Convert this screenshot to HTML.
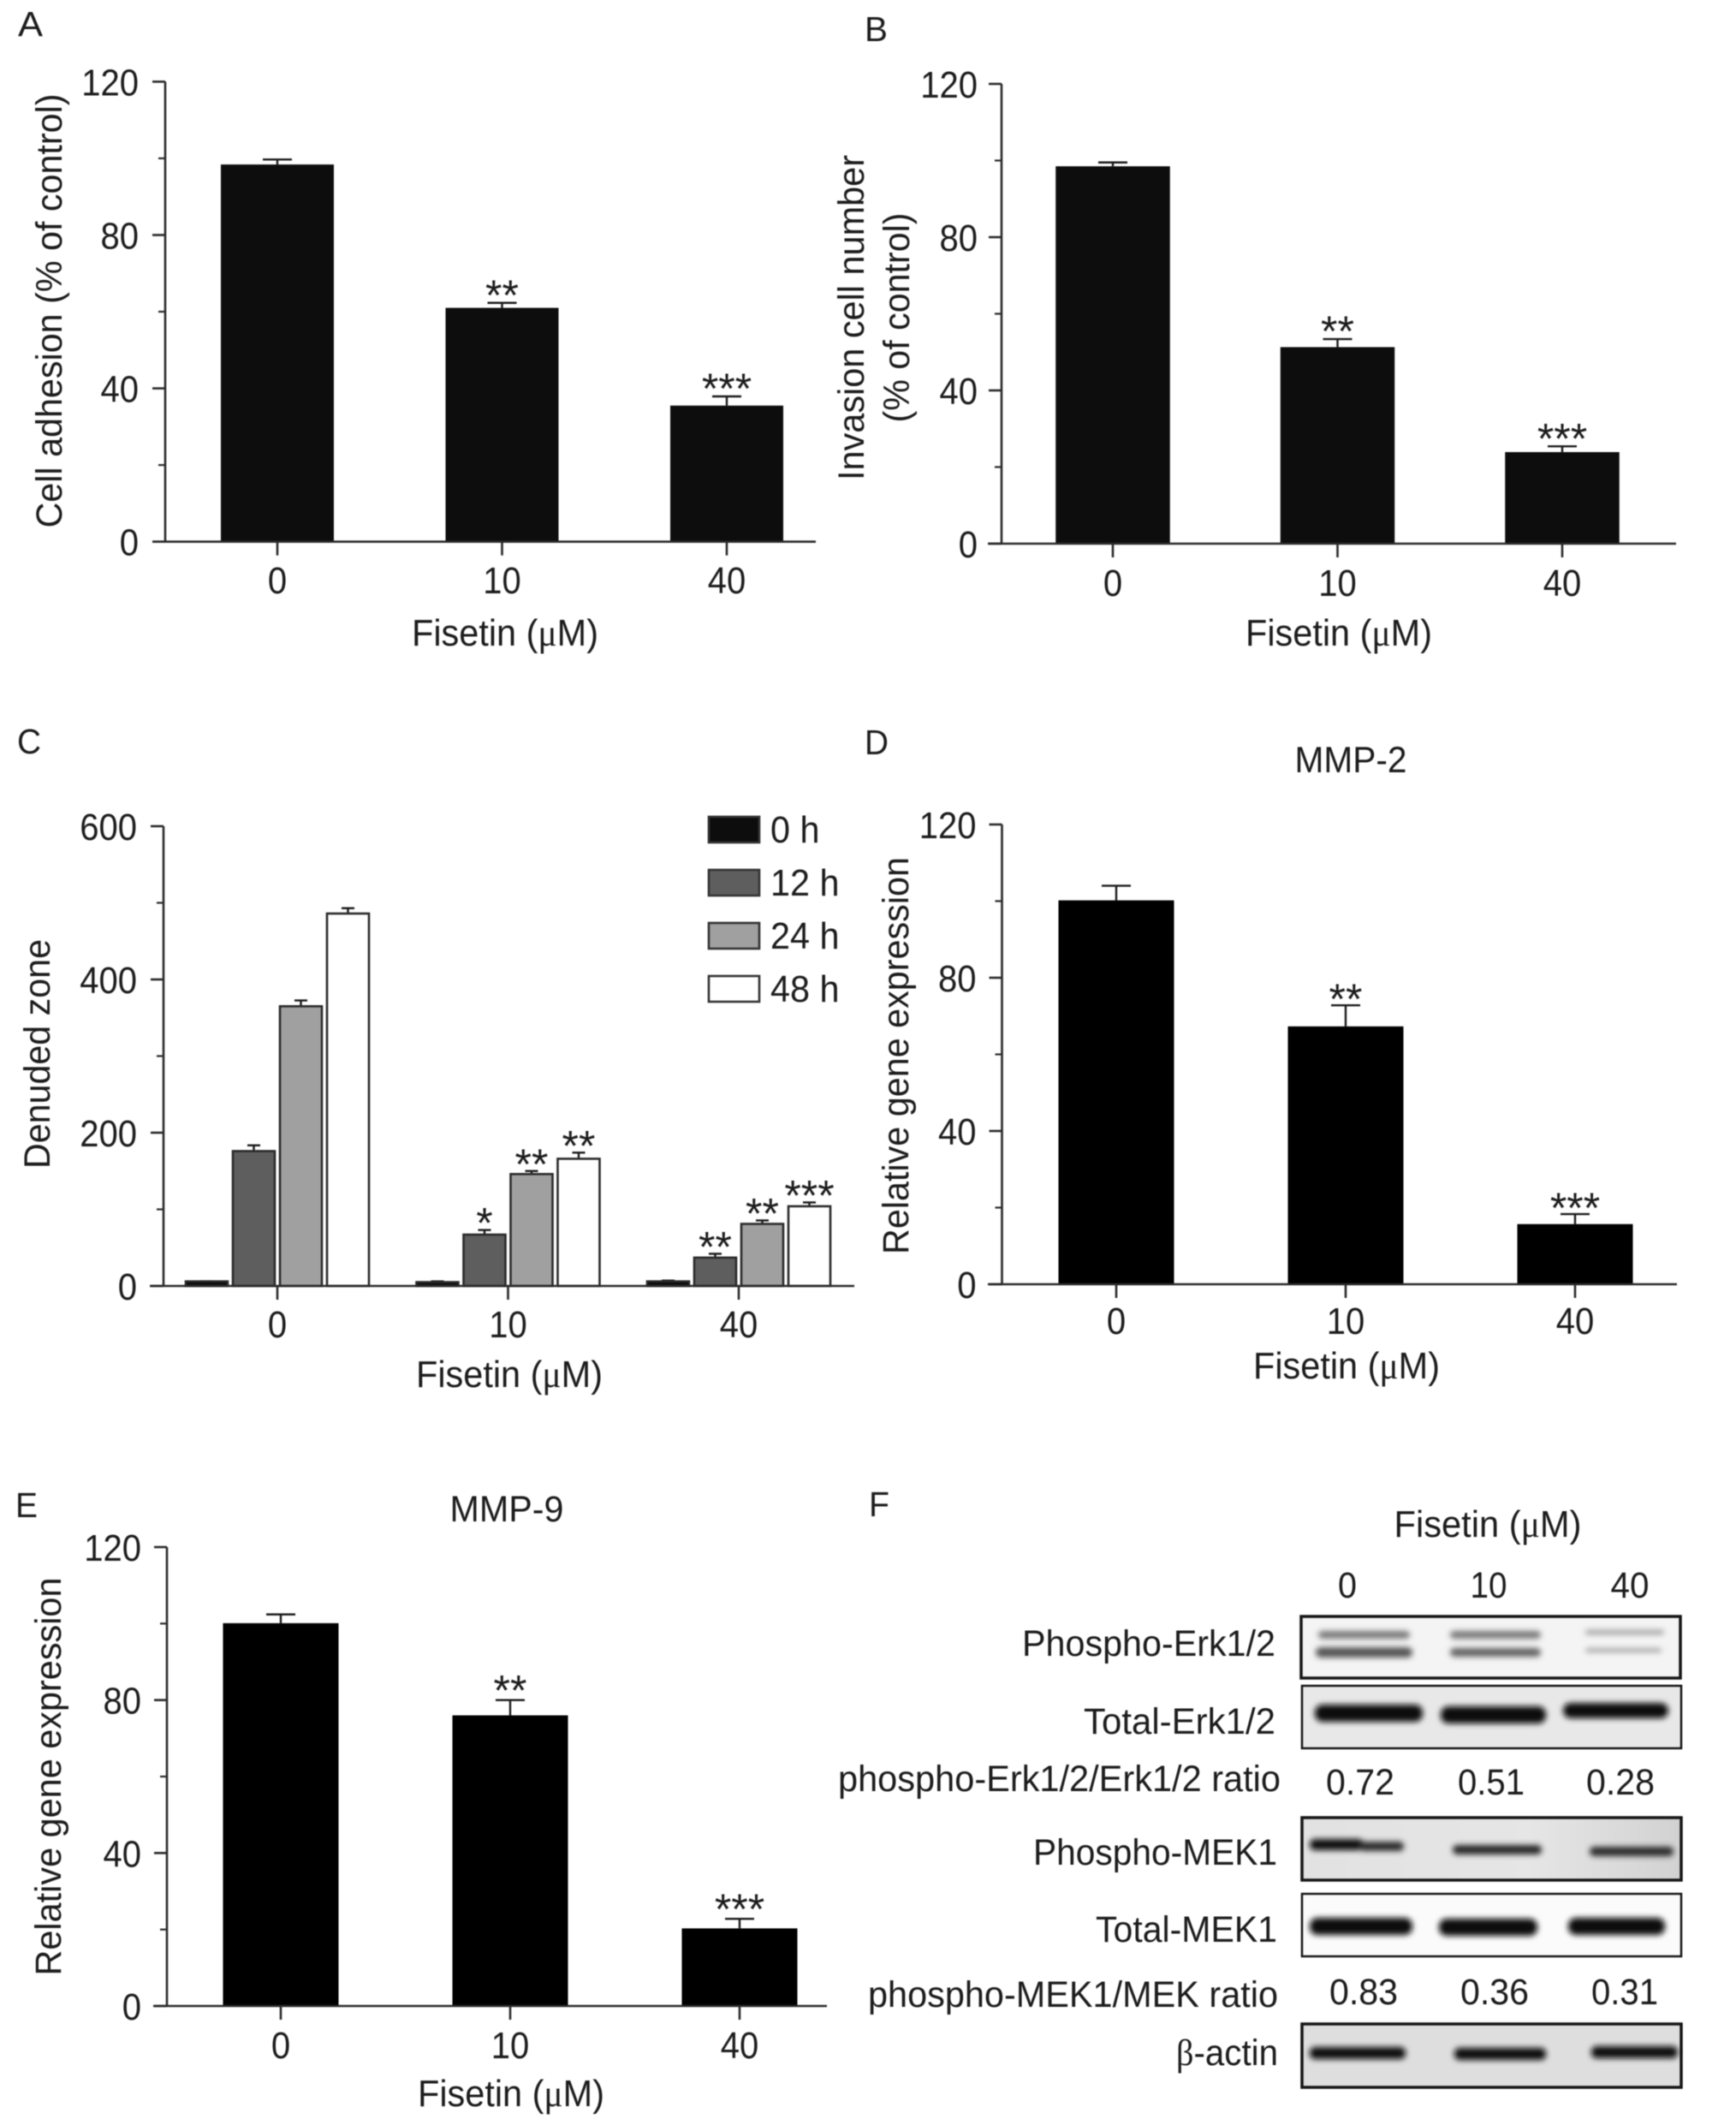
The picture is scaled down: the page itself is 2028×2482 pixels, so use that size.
<!DOCTYPE html>
<html lang="en">
<head>
<meta charset="utf-8">
<title>Fisetin effects on adhesion, invasion, migration and MMP expression</title>
<style>
  html, body { margin: 0; padding: 0; background: #fff; }
  svg { display: block; filter: blur(0.6px); }
  text { font-family: "Liberation Sans", Arial, sans-serif; fill: #1c1c1c; }
  .sym { font-family: "Liberation Serif", "DejaVu Serif", serif; }
</style>
</head>
<body>
<svg id="figure" xmlns="http://www.w3.org/2000/svg" width="2028" height="2482" viewBox="0 0 2028 2482">
  <defs>
    <filter id="bandBlur" filterUnits="userSpaceOnUse" x="1500" y="1870" width="500" height="590">
      <feGaussianBlur stdDeviation="3.4"></feGaussianBlur>
    </filter>
    <linearGradient id="blotGrey" x1="0" y1="0" x2="1" y2="0">
      <stop offset="0" stop-color="#e2e2e2"></stop>
      <stop offset="0.6" stop-color="#e6e6e6"></stop>
      <stop offset="1" stop-color="#d2d2d2"></stop>
    </linearGradient>
  </defs>
  <rect x="0" y="0" width="2028" height="2482" fill="#fff"></rect>

  <g id="panel-a">
    <text x="21" y="42" font-size="41" textLength="29" lengthAdjust="spacingAndGlyphs">A</text>
    <text transform="rotate(-90 72 363)" x="72" y="363" font-size="43" text-anchor="middle" textLength="507" lengthAdjust="spacingAndGlyphs">Cell adhesion (% of control)</text>
    <text x="590" y="754" font-size="44" text-anchor="middle" textLength="218" lengthAdjust="spacingAndGlyphs">Fisetin (<tspan class="sym">μ</tspan>M)</text>
  </g>

  <g id="panel-b">
    <text x="1010" y="48" font-size="41" textLength="27" lengthAdjust="spacingAndGlyphs">B</text>
    <text transform="rotate(-90 1009 371)" x="1009" y="371" font-size="43" text-anchor="middle" textLength="380" lengthAdjust="spacingAndGlyphs">Invasion cell number</text>
    <text transform="rotate(-90 1062 371)" x="1062" y="371" font-size="43" text-anchor="middle" textLength="245" lengthAdjust="spacingAndGlyphs">(% of control)</text>
    <text x="1564" y="754" font-size="44" text-anchor="middle" textLength="218" lengthAdjust="spacingAndGlyphs">Fisetin (<tspan class="sym">μ</tspan>M)</text>
  </g>

  <g id="panel-c">
    <text x="20" y="880" font-size="41" textLength="28" lengthAdjust="spacingAndGlyphs">C</text>
    <text transform="rotate(-90 58 1231)" x="58" y="1231" font-size="43" text-anchor="middle" textLength="268" lengthAdjust="spacingAndGlyphs">Denuded zone</text>
    <text x="595" y="1620" font-size="44" text-anchor="middle" textLength="218" lengthAdjust="spacingAndGlyphs">Fisetin (<tspan class="sym">μ</tspan>M)</text>
  </g>

  <g id="panel-d">
    <text x="1010" y="881" font-size="41" textLength="28" lengthAdjust="spacingAndGlyphs">D</text>
    <text x="1578" y="902" font-size="43" text-anchor="middle" textLength="131" lengthAdjust="spacingAndGlyphs">MMP-2</text>
    <text transform="rotate(-90 1061 1233)" x="1061" y="1233" font-size="43" text-anchor="middle" textLength="464" lengthAdjust="spacingAndGlyphs">Relative gene expression</text>
    <text x="1573" y="1610" font-size="44" text-anchor="middle" textLength="218" lengthAdjust="spacingAndGlyphs">Fisetin (<tspan class="sym">μ</tspan>M)</text>
  </g>

  <g id="panel-e">
    <text x="18" y="1772" font-size="41" textLength="26" lengthAdjust="spacingAndGlyphs">E</text>
    <text x="592" y="1777" font-size="43" text-anchor="middle" textLength="133" lengthAdjust="spacingAndGlyphs">MMP-9</text>
    <text transform="rotate(-90 71 2075)" x="71" y="2075" font-size="43" text-anchor="middle" textLength="465" lengthAdjust="spacingAndGlyphs">Relative gene expression</text>
    <text x="597" y="2460" font-size="44" text-anchor="middle" textLength="218" lengthAdjust="spacingAndGlyphs">Fisetin (<tspan class="sym">μ</tspan>M)</text>
  </g>

  <g id="panel-f">
    <text x="1015" y="1771" font-size="41" textLength="24" lengthAdjust="spacingAndGlyphs">F</text>
    <text x="1738" y="1795" font-size="44" text-anchor="middle" textLength="219" lengthAdjust="spacingAndGlyphs">Fisetin (<tspan class="sym">μ</tspan>M)</text>
    <text x="1574" y="1866" font-size="43" text-anchor="middle" textLength="22" lengthAdjust="spacingAndGlyphs">0</text>
    <text x="1739" y="1866" font-size="43" text-anchor="middle" textLength="43" lengthAdjust="spacingAndGlyphs">10</text>
    <text x="1904" y="1866" font-size="43" text-anchor="middle" textLength="45" lengthAdjust="spacingAndGlyphs">40</text>

    <text x="1490" y="1934" font-size="43" text-anchor="end" textLength="296" lengthAdjust="spacingAndGlyphs">Phospho-Erk1/2</text>
    <text x="1490" y="2025" font-size="43" text-anchor="end" textLength="224" lengthAdjust="spacingAndGlyphs">Total-Erk1/2</text>
    <text x="1496" y="2092" font-size="43" text-anchor="end" textLength="517" lengthAdjust="spacingAndGlyphs">phospho-Erk1/2/Erk1/2 ratio</text>
    <text x="1589" y="2096" font-size="43" text-anchor="middle" textLength="80" lengthAdjust="spacingAndGlyphs">0.72</text>
    <text x="1742" y="2096" font-size="43" text-anchor="middle" textLength="78" lengthAdjust="spacingAndGlyphs">0.51</text>
    <text x="1893" y="2096" font-size="43" text-anchor="middle" textLength="80" lengthAdjust="spacingAndGlyphs">0.28</text>
    <text x="1492" y="2178" font-size="43" text-anchor="end" textLength="285" lengthAdjust="spacingAndGlyphs">Phospho-MEK1</text>
    <text x="1492" y="2268" font-size="43" text-anchor="end" textLength="212" lengthAdjust="spacingAndGlyphs">Total-MEK1</text>
    <text x="1493" y="2344" font-size="43" text-anchor="end" textLength="479" lengthAdjust="spacingAndGlyphs">phospho-MEK1/MEK ratio</text>
    <text x="1593" y="2341" font-size="43" text-anchor="middle" textLength="80" lengthAdjust="spacingAndGlyphs">0.83</text>
    <text x="1746" y="2341" font-size="43" text-anchor="middle" textLength="80" lengthAdjust="spacingAndGlyphs">0.36</text>
    <text x="1898" y="2341" font-size="43" text-anchor="middle" textLength="78" lengthAdjust="spacingAndGlyphs">0.31</text>
    <text x="1493" y="2412" font-size="43" text-anchor="end" textLength="119" lengthAdjust="spacingAndGlyphs"><tspan class="sym">β</tspan>-actin</text>

    <rect x="1520" y="1888" width="443" height="72" fill="#f4f4f4"></rect>
    <rect x="1521" y="1969" width="443" height="73" fill="#e8e8e8"></rect>
    <rect x="1521" y="2123" width="443" height="73" fill="url(#blotGrey)"></rect>
    <rect x="1521" y="2212" width="443" height="73" fill="#fbfbfb"></rect>
    <rect x="1521" y="2364" width="443" height="74" fill="#dedede"></rect>

    <g filter="url(#bandBlur)">
      <g fill="#777">
        <rect x="1540" y="1905" width="107" height="9" rx="4.5" fill="#767676"></rect>
        <rect x="1537" y="1924" width="113" height="12" rx="6" fill="#555"></rect>
        <rect x="1694" y="1905" width="106" height="9" rx="4.5" fill="#767676"></rect>
        <rect x="1694" y="1925" width="106" height="10" rx="5" fill="#606060"></rect>
        <rect x="1852" y="1904" width="92" height="5" rx="2.5" fill="#999"></rect>
        <rect x="1852" y="1925" width="89" height="5" rx="2.5" fill="#a4a4a4"></rect>
      </g>
      <g fill="#0a0a0a">
        <rect x="1536" y="1991" width="126" height="20" rx="9"></rect>
        <rect x="1683" y="1993" width="123" height="20" rx="9"></rect>
        <rect x="1826" y="1989" width="123" height="18" rx="9"></rect>
      </g>
      <g fill="#222">
        <rect x="1530" y="2148" width="63" height="13" rx="6" fill="#0c0c0c"></rect>
        <rect x="1588" y="2151" width="52" height="11" rx="5" fill="#2a2a2a"></rect>
        <rect x="1697" y="2155" width="104" height="11" rx="5" fill="#262626"></rect>
        <rect x="1857" y="2157" width="98" height="11" rx="5" fill="#2a2a2a"></rect>
      </g>
      <g fill="#0a0a0a">
        <rect x="1530" y="2240" width="120" height="20" rx="9"></rect>
        <rect x="1681" y="2241" width="115" height="20" rx="9"></rect>
        <rect x="1832" y="2240" width="113" height="20" rx="9"></rect>
      </g>
      <g fill="#111">
        <rect x="1530" y="2391" width="112" height="14" rx="6"></rect>
        <rect x="1699" y="2392" width="107" height="14" rx="6"></rect>
        <rect x="1859" y="2390" width="101" height="14" rx="6"></rect>
      </g>
    </g>

    <g fill="none" stroke="#161616">
      <rect x="1520" y="1888" width="443" height="72" stroke-width="3.5"></rect>
      <rect x="1521" y="1969" width="443" height="73" stroke-width="2.5"></rect>
      <rect x="1521" y="2123" width="443" height="73" stroke-width="3.5"></rect>
      <rect x="1521" y="2212" width="443" height="73" stroke-width="2.5"></rect>
      <rect x="1521" y="2364" width="443" height="74" stroke-width="3.5"></rect>
    </g>
  </g>
</svg>

<script>
// ---- shared axis data ----
const categories = ['0', '10', '40'];
const percentTicks = [0, 40, 80, 120];
const percentMinorTicks = [20, 60, 100];
const zoneTicks = [0, 200, 400, 600];
const zoneMinorTicks = [100, 300, 500];

// ---- panel A: cell adhesion ----
const adhesionValues = [98.4, 61, 35.5];
const adhesionErrors = [1.3, 1.3, 2.4];
const adhesionStars = ['', '**', '***'];

// ---- panel B: invasion ----
const invasionValues = [98.5, 51.3, 23.9];
const invasionErrors = [1, 2.1, 1.5];
const invasionStars = ['', '**', '***'];

// ---- panel C: denuded zone ----
const seriesNames = ['0 h', '12 h', '24 h', '48 h'];
const zone0h = [6, 5, 6];
const zone12h = [176, 67, 37];
const zone24h = [365, 146, 81];
const zone48h = [486, 166, 104];
const zone0hErrors = [0, 1, 1];
const zone12hErrors = [7.5, 6, 5];
const zone24hErrors = [7.6, 4, 4.5];
const zone48hErrors = [7, 8, 5];
const zone0hStars = ['', '', ''];
const zone12hStars = ['', '*', '**'];
const zone24hStars = ['', '**', '**'];
const zone48hStars = ['', '**', '***'];

// ---- panel D: MMP-2 ----
const mmp2Values = [100.2, 67.3, 15.7];
const mmp2Errors = [3.8, 5.5, 2.6];
const mmp2Stars = ['', '**', '***'];

// ---- panel E: MMP-9 ----
const mmp9Values = [100.1, 76, 20.3];
const mmp9Errors = [2.3, 4, 2.5];
const mmp9Stars = ['', '**', '***'];

const NS = 'http://www.w3.org/2000/svg';
const AXIS_COLOR = '#2a2a2a';
const AXIS_WIDTH = 2.6;

function mk(tag, attrs, parent) {
  const node = document.createElementNS(NS, tag);
  Object.keys(attrs).forEach(function (k) { node.setAttribute(k, attrs[k]); });
  parent.appendChild(node);
  return node;
}

function narrow(node, ratio) {
  const w = node.getComputedTextLength() * ratio;
  node.setAttribute('textLength', w.toFixed(1));
  node.setAttribute('lengthAdjust', 'spacingAndGlyphs');
}

function linearY(layout, max) {
  return function (v) { return layout.y0 - (v / max) * (layout.y0 - layout.yTop); };
}

function categoryX(layout) {
  return function (i) { return layout.c0 + i * layout.step; };
}

function drawAxes(g, layout, y, x, majors, minors) {
  let el = mk('line', { x1: layout.axisX, y1: layout.yTop, x2: layout.axisX, y2: layout.y0, stroke: AXIS_COLOR, 'stroke-width': AXIS_WIDTH }, g);
  
  
  el = mk('line', { x1: layout.xStart, y1: layout.y0, x2: layout.xEnd, y2: layout.y0, stroke: AXIS_COLOR, 'stroke-width': AXIS_WIDTH }, g);
  
  

  majors.forEach(function (t) {
    const tick = mk('line', { x1: layout.axisX - 15, y1: y(t), x2: layout.axisX, y2: y(t), stroke: AXIS_COLOR, 'stroke-width': AXIS_WIDTH }, g);
    
    
    const label = mk('text', { x: layout.tickRight, y: y(t) + 16, 'font-size': 44, 'text-anchor': 'end' }, g);
    
    
    label.textContent = String(t);
    narrow(label, 0.91);
  });
  minors.forEach(function (t) {
    const tick = mk('line', { x1: layout.axisX - 8, y1: y(t), x2: layout.axisX, y2: y(t), stroke: AXIS_COLOR, 'stroke-width': 2.2 }, g);
    
    
  });
  categories.forEach(function (c, i) {
    const tick = mk('line', { x1: x(i), y1: layout.y0, x2: x(i), y2: layout.y0 + 16, stroke: AXIS_COLOR, 'stroke-width': AXIS_WIDTH }, g);
    
    
    const label = mk('text', { x: x(i), y: layout.xLabelY, 'font-size': 44, 'text-anchor': 'middle' }, g);
    
    
    label.textContent = c;
    narrow(label, 0.91);
  });
}

function drawErrorBar(g, cx, yValue, yTopErr, capW) {
  const stem = mk('line', { x1: cx, y1: yValue, x2: cx, y2: yTopErr, stroke: '#1a1a1a', 'stroke-width': 2.4 }, g);
  
  
  const cap = mk('line', { x1: cx - capW / 2, y1: yTopErr, x2: cx + capW / 2, y2: yTopErr, stroke: '#1a1a1a', 'stroke-width': 2.4 }, g);
  
  
}

function drawStars(g, cx, yTopErr, gap, stars) {
  if (!stars) return;
  const t = mk('text', { x: cx, y: yTopErr - gap + 26, 'font-size': 50, 'text-anchor': 'middle' }, g);
  
  
  t.textContent = stars;
}

function drawSimplePanel(id, layout, values, errors, stars) {
  const g = document.getElementById(id);
  const y = linearY(layout, 120);
  const x = categoryX(layout);
  values.forEach(function (v, i) {
    drawErrorBar(g, x(i), y(v), y(v + errors[i]), 34);
    const bar = mk('rect', { x: x(i) - layout.barW / 2, y: y(v), width: layout.barW, height: y(0) - y(v), fill: layout.fill }, g);
    
    
    drawStars(g, x(i), y(v + errors[i]), layout.starGap, stars[i]);
  });
  drawAxes(g, layout, y, x, percentTicks, percentMinorTicks);
}

drawSimplePanel('panel-a', { axisX: 193, xStart: 178, xEnd: 953, yTop: 95.4, y0: 632.7, c0: 324, step: 262.5, barW: 132, tickRight: 162, xLabelY: 693, fill: '#0d0d0d', starGap: 18 }, adhesionValues, adhesionErrors, adhesionStars);
drawSimplePanel('panel-b', { axisX: 1170, xStart: 1154, xEnd: 1958, yTop: 98, y0: 635, c0: 1300, step: 262.5, barW: 133.5, tickRight: 1142, xLabelY: 696, fill: '#0d0d0d', starGap: 18 }, invasionValues, invasionErrors, invasionStars);
drawSimplePanel('panel-d', { axisX: 1170.5, xStart: 1154, xEnd: 1959, yTop: 963, y0: 1500, c0: 1304, step: 268, barW: 135, tickRight: 1140.5, xLabelY: 1558, fill: '#000', starGap: 16 }, mmp2Values, mmp2Errors, mmp2Stars);
drawSimplePanel('panel-e', { axisX: 195, xStart: 179, xEnd: 966, yTop: 1807, y0: 2343, c0: 328, step: 268, barW: 135, tickRight: 165, xLabelY: 2404, fill: '#000', starGap: 20 }, mmp9Values, mmp9Errors, mmp9Stars);

// ---- panel C grouped bars and legend ----
(function () {
  const g = document.getElementById('panel-c');
  const layout = { axisX: 191, xStart: 175, xEnd: 998, yTop: 965, y0: 1502, c0: 324, step: 269.5, tickRight: 160, xLabelY: 1562 };
  const y = linearY(layout, 600);
  const x = categoryX(layout);
  const allValues = [zone0h, zone12h, zone24h, zone48h];
  const allErrors = [zone0hErrors, zone12hErrors, zone24hErrors, zone48hErrors];
  const allStars = [zone0hStars, zone12hStars, zone24hStars, zone48hStars];
  const fills = ['#0d0d0d', '#5e5e5e', '#a0a0a0', '#ffffff'];
  const pitch = 55;
  const barW = 49;

  allValues.forEach(function (vals, s) {
    vals.forEach(function (v, i) {
      const cx = x(i) + (s - 1.5) * pitch;
      drawErrorBar(g, cx, y(v), y(v + allErrors[s][i]), 15);
      const bar = mk('rect', { x: cx - barW / 2, y: y(v), width: barW, height: y(0) - y(v), fill: fills[s], stroke: '#2a2a2a', 'stroke-width': 2.6 }, g);
      
      
      drawStars(g, cx, y(v + allErrors[s][i]), 17, allStars[s][i]);
    });
  });
  drawAxes(g, layout, y, x, zoneTicks, zoneMinorTicks);

  seriesNames.forEach(function (name, s) {
    const top = 954 + s * 62;
    const sw = mk('rect', { x: 828, y: top, width: 59, height: 30, fill: fills[s], stroke: '#333', 'stroke-width': 2.6 }, g);
    
    
    const label = mk('text', { x: 900, y: top + 30, 'font-size': 44 }, g);
    
    
    label.textContent = name;
    narrow(label, 0.94);
  });
})();
</script>
</body>
</html>
